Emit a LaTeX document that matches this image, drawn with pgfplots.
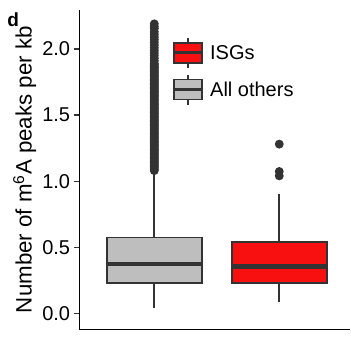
\documentclass[border=0pt]{standalone}
\usepackage{pgfplots}
\pgfplotsset{compat=1.18}
\usepgfplotslibrary{statistics}
\usepackage{fontspec}
\setmainfont{Liberation Sans}
\definecolor{isgred}{HTML}{F81010}
\definecolor{othgray}{HTML}{BEBEBE}
\definecolor{dk}{HTML}{333333}
\newcommand\boxglyph[1]{%
  \draw[dk, line width=1.8bp] (14bp,-15bp) -- (14bp,15bp);
  \draw[dk, line width=1.8bp, fill=#1] (0bp,-10bp) rectangle (28bp,10bp);
  \draw[dk, line width=3bp] (0bp,0bp) -- (28bp,0bp);
}
\begin{document}
\begin{tikzpicture}
\path[use as bounding box] (-79.3bp,-9.7bp) rectangle (271.7bp,329.3bp);
\begin{axis}[
  scale only axis, width=270.7bp, height=319.3bp,
  xmin=0.4, xmax=2.566, ymin=-0.121, ymax=2.295,
  axis x line*=bottom, axis y line*=left,
  axis line style={black, line width=1bp},
  xtick=\empty,
  ytick={0,0.5,1,1.5,2},
  yticklabel style={/pgf/number format/.cd, fixed, fixed zerofill, precision=1, assume math mode=true},
  tick label style={font=\fontsize{20bp}{23bp}\selectfont, text=black},
  tick align=outside, major tick length=5.7bp,
  tick style={dk, line width=1.2bp},
  ylabel={Number of m\textsuperscript{6}A peaks per kb},
  ylabel style={font=\fontsize{22.3bp}{25bp}\selectfont, at={(axis description cs:-0.1758,0.5)}, anchor=base},
  legend style={draw=none, fill=none, at={(axis description cs:0.3424,0.9164)}, anchor=north west, inner sep=0pt, row sep=5bp, column sep=7bp, font=\fontsize{20bp}{23bp}\selectfont, nodes={inner sep=0pt}},
  legend cell align=left,
  boxplot/draw direction=y,
]
\addlegendimage{legend image code/.code={\boxglyph{isgred}}}
\addlegendentry{ISGs}
\addlegendimage{legend image code/.code={\boxglyph{othgray}}}
\addlegendentry{All others}

\addplot[forget plot, boxplot prepared={draw position=1, lower whisker=0.038, lower quartile=0.232, median=0.373, upper quartile=0.573, upper whisker=1.07, box extend=0.76, whisker extend=0, every median/.style={line width=4.5bp}}, draw=dk, line width=1.8bp, fill=othgray, mark=*, mark size=3.5bp, mark options={fill=dk, draw=none}]
table[row sep=\\, y index=0] {y\\
2.19\\ 2.17\\ 2.155\\ 2.13\\ 2.11\\ 2.09\\ 2.07\\ 2.05\\ 2.03\\ 2.01\\ 1.99\\ 1.97\\ 1.95\\ 1.93\\ 1.91\\ 1.89\\
1.88\\ 1.87\\ 1.86\\ 1.85\\ 1.84\\ 1.83\\ 1.82\\ 1.81\\ 1.80\\
1.79\\ 1.78\\ 1.77\\ 1.76\\ 1.75\\ 1.74\\ 1.73\\ 1.72\\ 1.71\\ 1.70\\
1.69\\ 1.68\\ 1.67\\ 1.66\\ 1.65\\ 1.64\\ 1.63\\ 1.62\\ 1.61\\ 1.60\\
1.59\\ 1.58\\ 1.57\\ 1.56\\ 1.55\\ 1.54\\ 1.53\\ 1.52\\ 1.51\\ 1.50\\
1.49\\ 1.48\\ 1.47\\ 1.46\\ 1.45\\ 1.44\\ 1.43\\ 1.42\\ 1.41\\ 1.40\\
1.39\\ 1.38\\ 1.37\\ 1.36\\ 1.35\\ 1.34\\ 1.33\\ 1.32\\ 1.31\\ 1.30\\
1.29\\ 1.28\\ 1.27\\ 1.26\\ 1.25\\ 1.24\\ 1.23\\ 1.22\\ 1.21\\ 1.20\\
1.19\\ 1.18\\ 1.17\\ 1.16\\ 1.15\\ 1.14\\ 1.13\\ 1.12\\ 1.11\\ 1.10\\
1.09\\ 1.08\\
};

\addplot[forget plot, boxplot prepared={draw position=2, lower whisker=0.088, lower quartile=0.232, median=0.353, upper quartile=0.542, upper whisker=0.904, box extend=0.76, whisker extend=0, every median/.style={line width=4.5bp}}, draw=dk, line width=1.8bp, fill=isgred, mark=*, mark size=3.5bp, mark options={fill=dk, draw=none}]
table[row sep=\\, y index=0] {y\\ 1.28\\ 1.073\\ 1.04\\};
\end{axis}
\node[anchor=base west, font=\fontsize{19bp}{22bp}\selectfont\bfseries, inner sep=0pt] at (-72bp,302.6bp) {d};
\end{tikzpicture}
\end{document}
